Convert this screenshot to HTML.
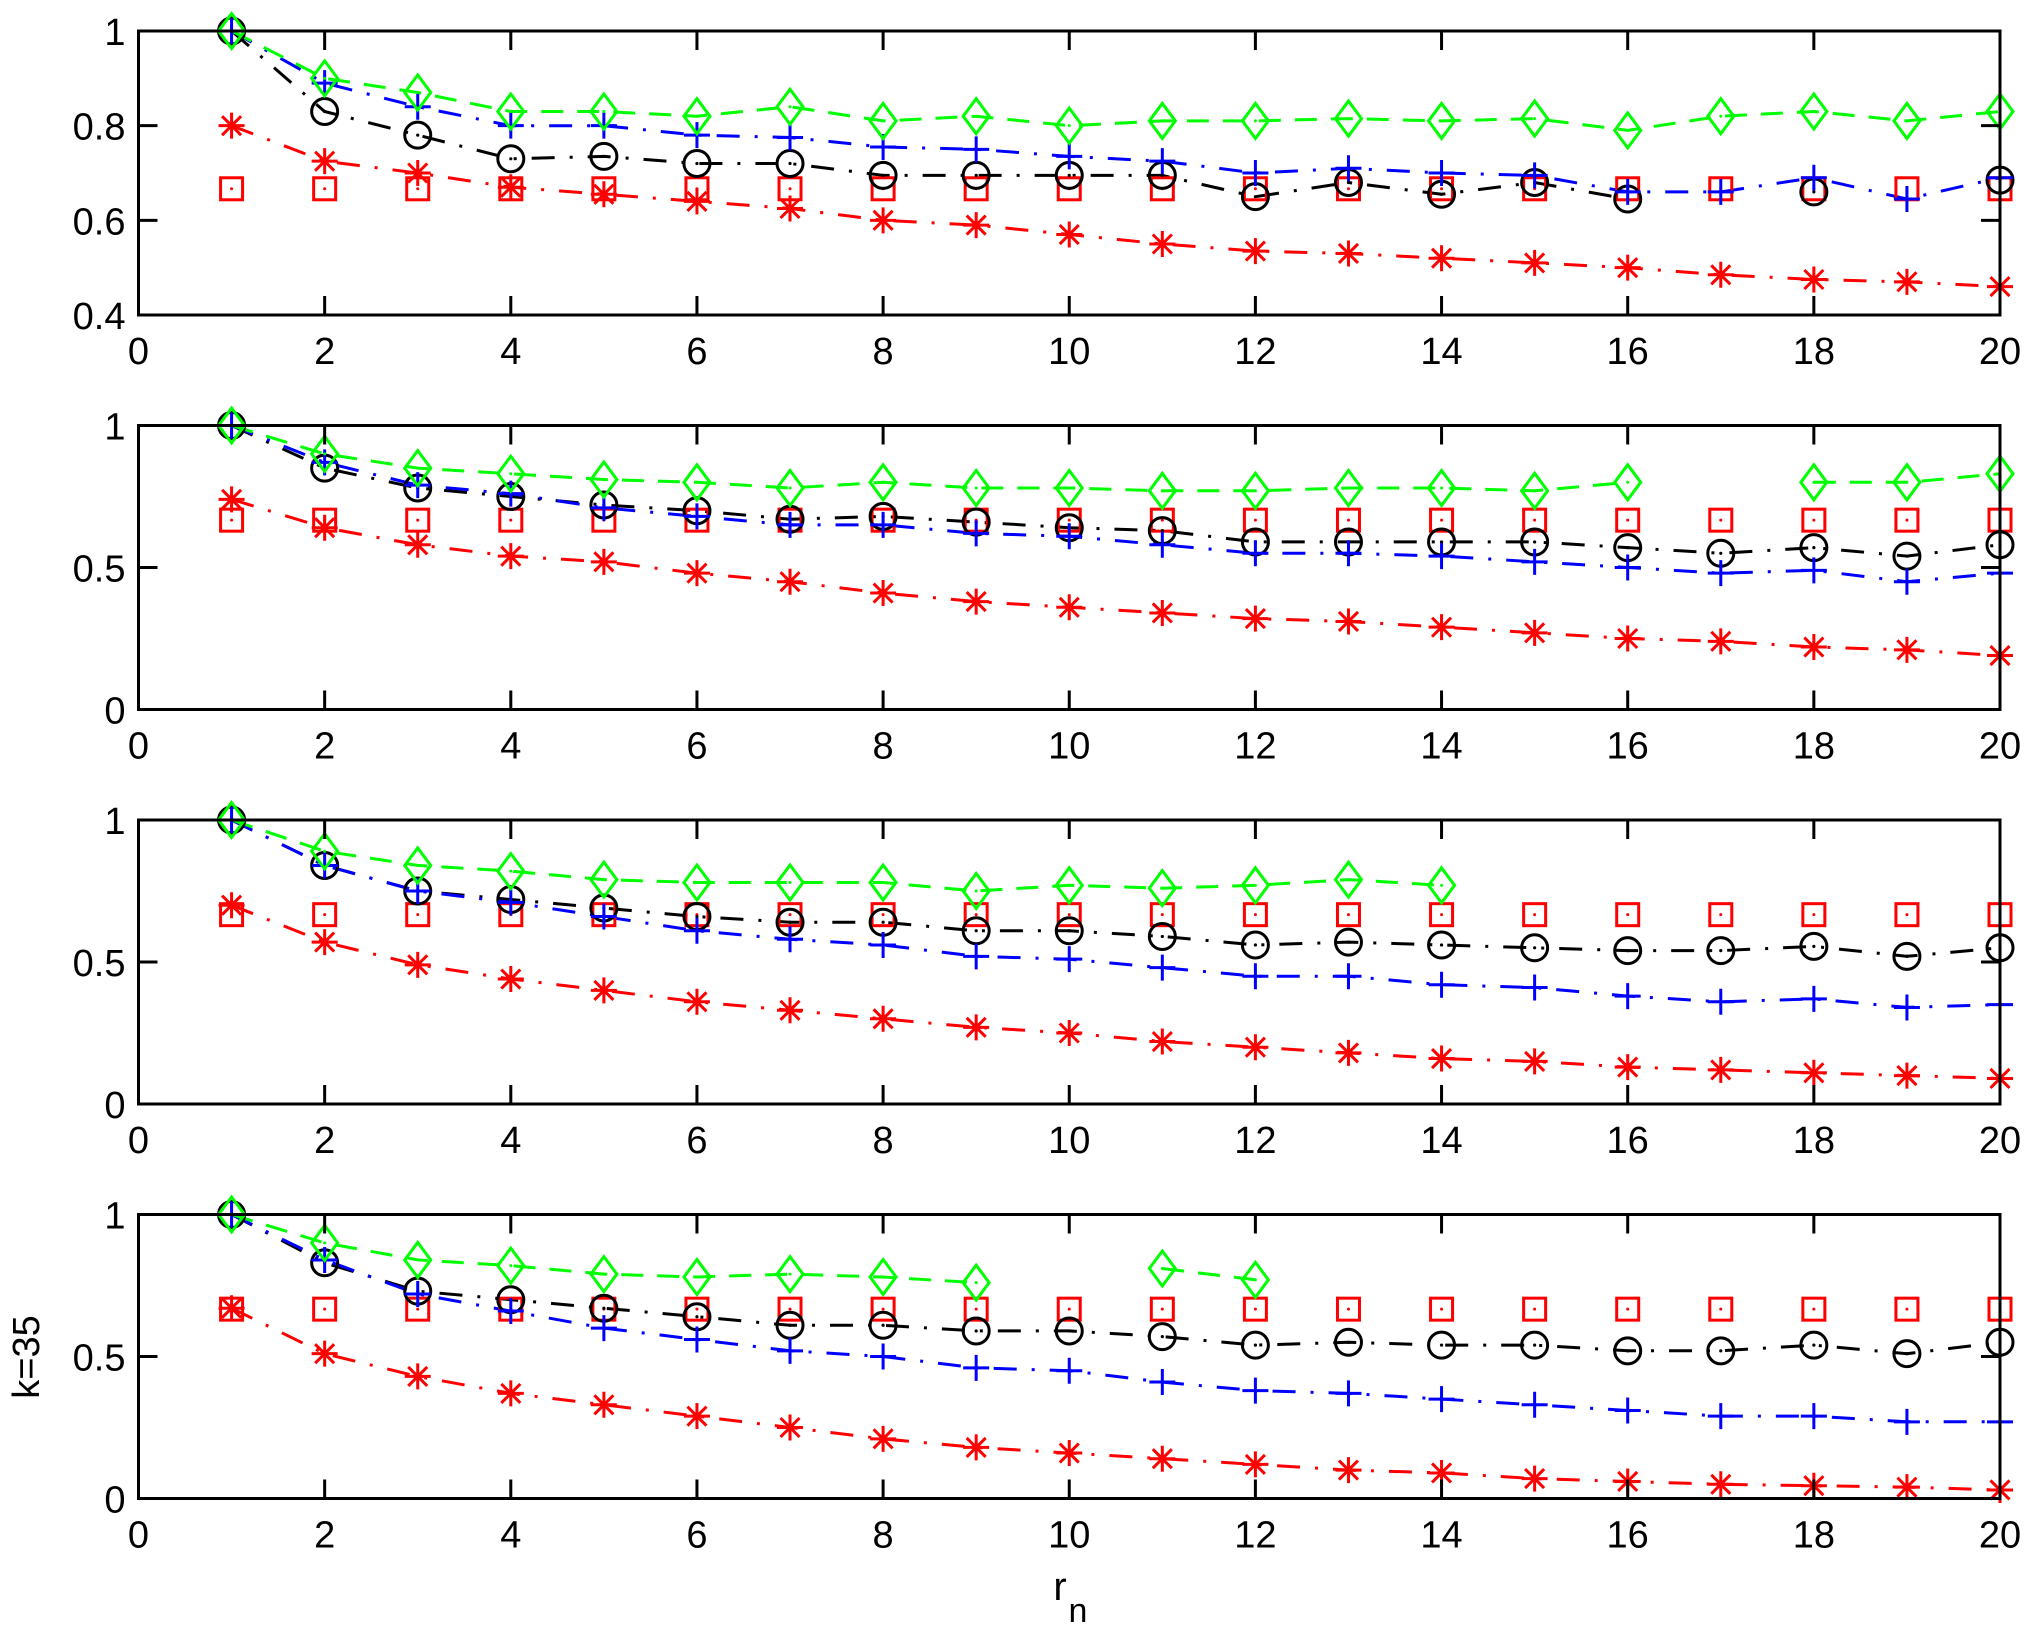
<!DOCTYPE html>
<html><head><meta charset="utf-8"><style>
html,body{margin:0;padding:0;background:#fff;}
svg{display:block;}
text{font-family:"Liberation Sans",Arial,sans-serif;}
</style></head><body>
<svg id="s" xmlns="http://www.w3.org/2000/svg" width="2034" height="1626" viewBox="0 0 2034 1626">
<rect width="2034" height="1626" fill="#fff"/>
<text x="39" y="1357" font-size="38" text-anchor="middle" transform="rotate(-90 39 1357)">k=35</text>
<text x="1060" y="1600" font-size="40" text-anchor="middle">r</text>
<text x="1078" y="1622" font-size="34" text-anchor="middle">n</text>
</svg>
<script>
var N=null;
var panels=[
{top:31,ymin:0.4,ymax:1,yt:[0.4,0.6,0.8,1],yl:["0.4","0.6","0.8","1"],
g:[1,0.9,0.87,0.83,0.83,0.82,0.84,0.81,0.82,0.80,0.81,0.81,0.815,0.81,0.815,0.79,0.82,0.83,0.81,0.83],
b:[1,0.89,0.84,0.80,0.80,0.78,0.775,0.755,0.75,0.735,0.725,0.70,0.71,0.70,0.695,0.66,0.66,0.69,0.645,0.69],
k:[1,0.83,0.78,0.73,0.735,0.72,0.72,0.695,0.695,0.695,0.695,0.65,0.68,0.655,0.68,0.645,N,0.66,N,0.685],
r:[0.80,0.725,0.70,0.67,0.655,0.64,0.625,0.60,0.59,0.57,0.55,0.535,0.53,0.52,0.51,0.50,0.485,0.475,0.47,0.46]},
{top:425.5,ymin:0,ymax:1,yt:[0,0.5,1],yl:["0","0.5","1"],
g:[1,0.9,0.85,0.83,0.81,0.80,0.78,0.80,0.78,0.78,0.77,0.77,0.78,0.78,0.77,0.80,N,0.80,0.80,0.83],
b:[1,0.87,0.79,0.76,0.71,0.68,0.65,0.65,0.62,0.61,0.58,0.55,0.55,0.54,0.52,0.50,0.48,0.49,0.45,0.48],
k:[1,0.85,0.78,0.75,0.72,0.70,0.67,0.68,0.66,0.64,0.63,0.59,0.59,0.59,0.59,0.57,0.55,0.57,0.54,0.58],
r:[0.74,0.64,0.58,0.54,0.52,0.48,0.45,0.41,0.38,0.36,0.34,0.32,0.31,0.29,0.27,0.25,0.24,0.22,0.21,0.19]},
{top:820,ymin:0,ymax:1,yt:[0,0.5,1],yl:["0","0.5","1"],
g:[1,0.89,0.84,0.82,0.79,0.78,0.78,0.78,0.75,0.77,0.76,0.77,0.79,0.77,N,N,N,N,N,N],
b:[1,0.84,0.75,0.71,0.66,0.61,0.58,0.56,0.52,0.51,0.48,0.45,0.45,0.42,0.41,0.38,0.36,0.37,0.34,0.35],
k:[1,0.84,0.75,0.72,0.69,0.66,0.64,0.64,0.61,0.61,0.59,0.56,0.57,0.56,0.55,0.54,0.54,0.555,0.52,0.55],
r:[0.70,0.57,0.49,0.44,0.40,0.36,0.33,0.30,0.27,0.25,0.22,0.20,0.18,0.16,0.15,0.13,0.12,0.11,0.10,0.09]},
{top:1214.5,ymin:0,ymax:1,yt:[0,0.5,1],yl:["0","0.5","1"],
g:[1,0.9,0.84,0.82,0.79,0.78,0.79,0.78,0.76,N,0.81,0.77,N,N,N,N,N,N,N,N],
b:[1,0.84,0.72,0.66,0.60,0.56,0.52,0.50,0.46,0.45,0.41,0.38,0.37,0.35,0.33,0.31,0.29,0.29,0.27,0.27],
k:[1,0.83,0.73,0.70,0.67,0.64,0.61,0.61,0.59,0.59,0.57,0.54,0.55,0.54,0.54,0.52,0.52,0.54,0.51,0.55],
r:[0.67,0.51,0.43,0.37,0.33,0.29,0.25,0.21,0.18,0.16,0.14,0.12,0.10,0.09,0.07,0.06,0.05,0.045,0.04,0.03]}
];
var L=138.5,R=2000,H=284,out="",SW=3;
function X(v){return L+(R-L)*v/20;}
function seg(pts,col,dash){var s="",cur=[];
 pts.forEach(function(p){if(p==null){if(cur.length>1)s+=pl(cur);cur=[];}else cur.push(p);});
 if(cur.length>1)s+=pl(cur);return s;
 function pl(c){return '<polyline fill="none" stroke="'+col+'" stroke-width="3" stroke-dasharray="'+dash+'" points="'+c.map(function(p){return p[0].toFixed(1)+","+p[1].toFixed(1)}).join(" ")+'"/>';}}
panels.forEach(function(p){
 var T=p.top,B=T+H;
 function Y(v){return B-(v-p.ymin)/(p.ymax-p.ymin)*H;}
 function P(a){return a.map(function(v,i){return v==null?null:[X(i+1),Y(v)];});}
 var sq=[];for(var i=0;i<20;i++)sq.push([X(i+1),Y(2/3)]);
 out+=seg(P(p.r),"#f00","23 15 3 15");
 out+=seg(P(p.k),"#000","23 15 3 15");
 out+=seg(P(p.b),"#00f","23 15 3 15");
 out+=seg(P(p.g),"#0f0","22 14");
 sq.forEach(function(q){out+='<rect x="'+(q[0]-11)+'" y="'+(q[1]-11)+'" width="22" height="22" fill="none" stroke="#f00" stroke-width="'+SW+'"/><circle cx="'+q[0]+'" cy="'+q[1]+'" r="1.5" fill="#f00"/>';});
 P(p.r).forEach(function(q){if(!q)return;var x=q[0],y=q[1],a=13,d=9.5;
  out+='<path d="M'+(x-a)+' '+y+'H'+(x+a)+'M'+x+' '+(y-a)+'V'+(y+a)+'M'+(x-d)+' '+(y-d)+'L'+(x+d)+' '+(y+d)+'M'+(x-d)+' '+(y+d)+'L'+(x+d)+' '+(y-d)+'" stroke="#f00" stroke-width="'+SW+'"/>';});
 P(p.k).forEach(function(q){if(!q)return;out+='<circle cx="'+q[0]+'" cy="'+q[1]+'" r="13" fill="none" stroke="#000" stroke-width="'+SW+'"/><circle cx="'+q[0]+'" cy="'+q[1]+'" r="1.6"/>';});
 P(p.b).forEach(function(q){if(!q)return;var x=q[0],y=q[1];out+='<path d="M'+(x-13)+' '+y+'H'+(x+13)+'M'+x+' '+(y-13)+'V'+(y+13)+'" stroke="#00f" stroke-width="'+SW+'"/>';});
 P(p.g).forEach(function(q){if(!q)return;var x=q[0],y=q[1];out+='<path d="M'+x+' '+(y-17.5)+'L'+(x+13)+' '+y+'L'+x+' '+(y+17.5)+'L'+(x-13)+' '+y+'Z" fill="none" stroke="#0f0" stroke-width="'+SW+'"/><circle cx="'+x+'" cy="'+y+'" r="1.5" fill="#0f0"/>';});
 out+='<rect x="'+L+'" y="'+T+'" width="'+(R-L)+'" height="'+H+'" fill="none" stroke="#000" stroke-width="3"/>';
 for(var t=0;t<=20;t+=2){var x=X(t);
  out+='<path d="M'+x+' '+B+'V'+(B-19)+'M'+x+' '+T+'V'+(T+19)+'" stroke="#000" stroke-width="3"/>';
  out+='<text x="'+x+'" y="'+(B+49)+'" font-size="38" text-anchor="middle">'+t+'</text>';}
 p.yt.forEach(function(v,j){var y=Y(v);
  out+='<path d="M'+L+' '+y+'H'+(L+19)+'M'+R+' '+y+'H'+(R-19)+'" stroke="#000" stroke-width="3"/>';
  out+='<text x="'+(L-13)+'" y="'+(y+14)+'" font-size="38" text-anchor="end">'+p.yl[j]+'</text>';});
});
document.getElementById("s").insertAdjacentHTML("beforeend",out);
</script>
</body></html>
